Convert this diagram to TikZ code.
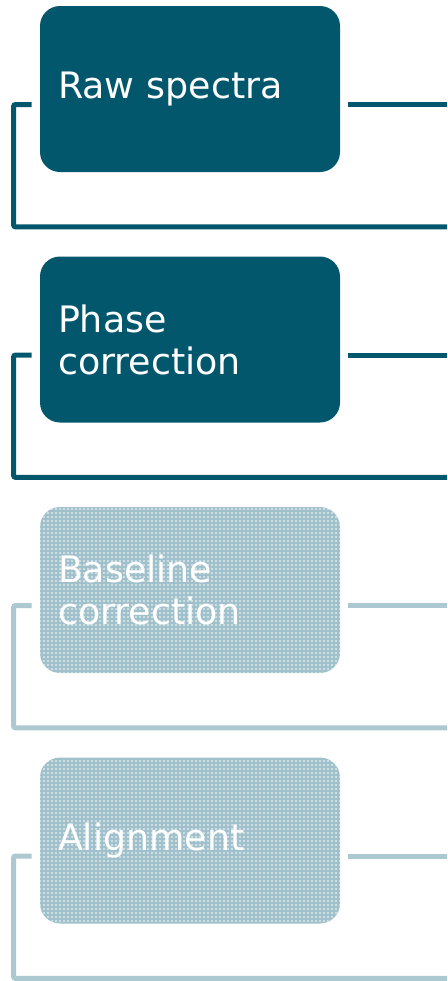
\documentclass[tikz,border=0pt]{standalone}
\usepackage{fontspec}
\setmainfont{DejaVu Sans}
\usetikzlibrary{calc}
\usetikzlibrary{patterns.meta}
\definecolor{stepdark}{RGB}{2,87,108}
\definecolor{steplight}{RGB}{160,193,203}
\definecolor{stepline}{RGB}{172,201,210}

\begin{document}
\begin{tikzpicture}[
				darkbox/.style={rectangle,rounded corners=10pt,minimum width=150pt,minimum height=83pt,fill=stepdark,text=white,align=left,text width=132pt,inner xsep=9pt,font=\fontsize{18.2}{21}\selectfont},
				fadebox/.style={darkbox,fill=none,preaction={fill=steplight},pattern={Dots[distance=2pt,radius=0.45pt]},pattern color=white},
				darkline/.style={line width=2.5pt,draw=stepdark},
				fadeline/.style={line width=2.5pt,draw=stepline}]

				\useasboundingbox (0,0) rectangle (223.5pt,-490.5pt);
				\coordinate (edge) at (223.5pt,0);

				\node (raw) [darkbox] at (95pt,-44.5pt) {Raw spectra};
				\node (phase) [darkbox,below of=raw,node distance=125.25pt] {Phase\\correction};
				\node (base) [fadebox,below of=phase,node distance=125.25pt] {Baseline\\correction};
				\node (align) [fadebox,below of=base,node distance=125.25pt] {Alignment};

				\coordinate (rawR) at ($(raw.east)+(4pt,-7.75pt)$);
				\coordinate (rawL) at ($(raw.west)+(-4pt,-7.75pt)$);
				\coordinate (rawB) at ($(raw.south west)+(-13pt,-27.25pt)$);
				\coordinate (phaseR) at ($(phase.east)+(4pt,-7.75pt)$);
				\coordinate (phaseL) at ($(phase.west)+(-4pt,-7.75pt)$);
				\coordinate (phaseB) at ($(phase.south west)+(-13pt,-27.25pt)$);
				\coordinate (baseR) at ($(base.east)+(4pt,-7.75pt)$);
				\coordinate (baseL) at ($(base.west)+(-4pt,-7.75pt)$);
				\coordinate (baseB) at ($(base.south west)+(-13pt,-27.25pt)$);
				\coordinate (alignR) at ($(align.east)+(4pt,-7.75pt)$);
				\coordinate (alignL) at ($(align.west)+(-4pt,-7.75pt)$);
				\coordinate (alignB) at ($(align.south west)+(-13pt,-27.25pt)$);

				\draw [darkline] (rawR)--(rawR -| edge);
				\draw [darkline,rounded corners=1pt] (rawL)-|(rawB)--(rawB -| edge);
				\draw [darkline] (phaseR)--(phaseR -| edge);
				\draw [darkline,rounded corners=1pt] (phaseL)-|(phaseB)--(phaseB -| edge);
				\draw [fadeline] (baseR)--(baseR -| edge);
				\draw [fadeline,rounded corners=1pt] (baseL)-|(baseB)--(baseB -| edge);
				\draw [fadeline] (alignR)--(alignR -| edge);
				\draw [fadeline,rounded corners=1pt] (alignL)-|(alignB)--(alignB -| edge);
			\end{tikzpicture}
\end{document}
